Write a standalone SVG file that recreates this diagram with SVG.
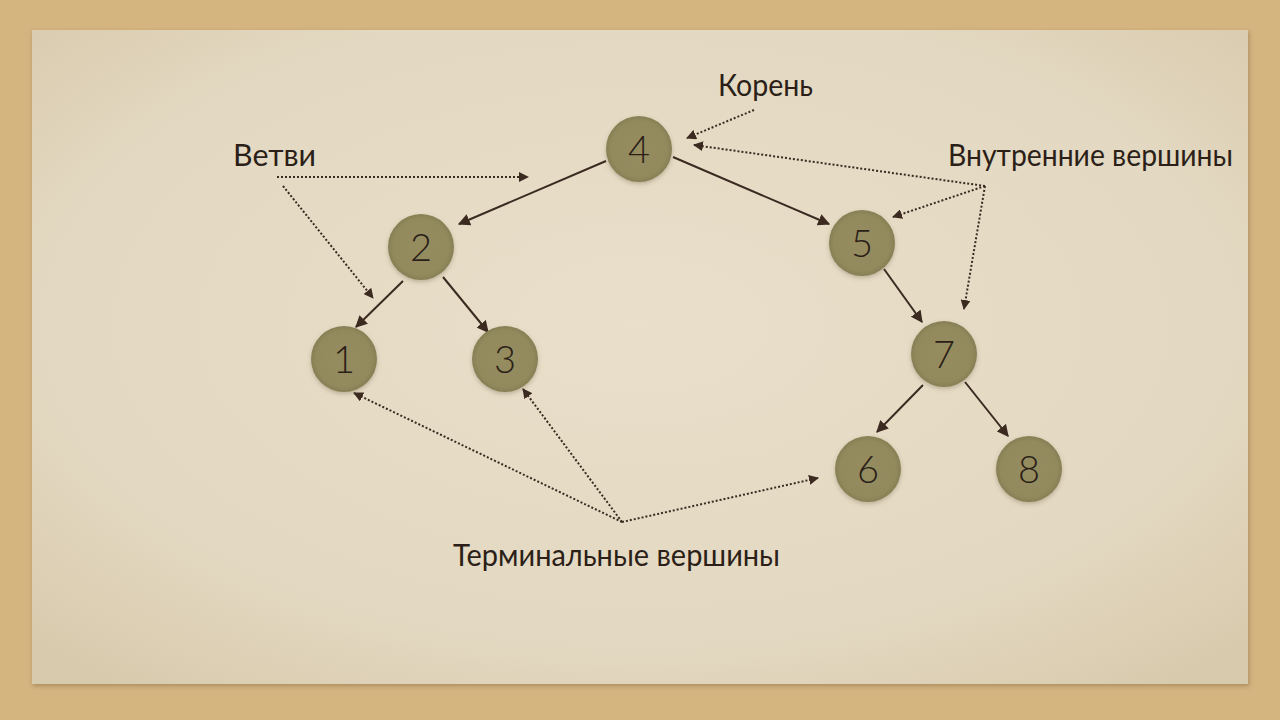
<svg xmlns="http://www.w3.org/2000/svg" width="1280" height="720" viewBox="0 0 1280 720">
<defs>
  <radialGradient id="paper" cx="50%" cy="45%" r="70%">
    <stop offset="0" stop-color="#e9dfca"/>
    <stop offset="0.7" stop-color="#e3d8c1"/>
    <stop offset="1" stop-color="#d8caad"/>
  </radialGradient>
  <radialGradient id="nodefill" cx="50%" cy="50%" r="50%">
    <stop offset="0" stop-color="#958d60"/>
    <stop offset="0.85" stop-color="#928a5d"/>
    <stop offset="1" stop-color="#867f55"/>
  </radialGradient>
  <filter id="shadow" x="-30%" y="-30%" width="160%" height="160%">
    <feDropShadow dx="0" dy="2" stdDeviation="2" flood-color="#5a4a30" flood-opacity="0.3"/>
  </filter>
  <filter id="papershadow" x="-5%" y="-5%" width="110%" height="110%">
    <feDropShadow dx="1" dy="2" stdDeviation="2" flood-color="#6a5030" flood-opacity="0.4"/>
  </filter>
  <marker id="arrow" viewBox="0 0 10 10" refX="9" refY="5" markerWidth="12" markerHeight="12" markerUnits="userSpaceOnUse" orient="auto">
    <path d="M0,0 L10,5 L0,10 z" fill="#3a2a20"/>
  </marker>
  <marker id="darrow" viewBox="0 0 10 10" refX="9" refY="5" markerWidth="10" markerHeight="10" markerUnits="userSpaceOnUse" orient="auto">
    <path d="M0,0 L10,5 L0,10 z" fill="#3a2a20"/>
  </marker>
</defs>
<style>
  .edge { stroke: #3a2a20; stroke-width: 2; fill: none; marker-end: url(#arrow); }
  .dot { stroke: #3a2a20; stroke-width: 2; stroke-dasharray: 2 2; fill: none; marker-end: url(#darrow); }
  .node circle { fill: url(#nodefill); filter: url(#shadow); }
  .node text { font-family: Lato, "Open Sans", "DejaVu Sans", sans-serif; font-weight: 300; font-size: 38px; fill: #2b1f18; text-anchor: middle; }
  .label { font-family: Lato, "Open Sans", "DejaVu Sans", sans-serif; font-weight: 400; font-size: 31px; fill: #2b1f18; }
</style>

<!-- background -->
<rect x="0" y="0" width="1280" height="720" fill="#d4b47f"/>
<rect x="32" y="30" width="1216" height="654" fill="url(#paper)" filter="url(#papershadow)"/>

<!-- connectors -->
<g id="connectors">
  <line class="edge" x1="606" y1="161" x2="459" y2="224"/>
  <line class="edge" x1="673" y1="157" x2="829" y2="224"/>
  <line class="edge" x1="403" y1="281" x2="356" y2="327"/>
  <line class="edge" x1="443" y1="277" x2="488" y2="332"/>
  <line class="edge" x1="884" y1="269" x2="922" y2="322"/>
  <line class="edge" x1="923" y1="385" x2="877" y2="432"/>
  <line class="edge" x1="965" y1="382" x2="1008" y2="436"/>

  <line class="dot" x1="754" y1="110" x2="687" y2="138"/>
  <line class="dot" x1="277" y1="177" x2="528" y2="177"/>
  <line class="dot" x1="283" y1="186" x2="373" y2="298"/>
  <line class="dot" x1="985" y1="186" x2="694" y2="145"/>
  <line class="dot" x1="985" y1="186" x2="893" y2="217"/>
  <line class="dot" x1="985" y1="186" x2="964" y2="309"/>
  <line class="dot" x1="622" y1="522" x2="354" y2="393"/>
  <line class="dot" x1="622" y1="522" x2="523" y2="389"/>
  <line class="dot" x1="622" y1="522" x2="818" y2="478"/>
</g>

<!-- nodes -->
<g id="node-4" class="node"><circle cx="639" cy="149" r="33"/><text x="639" y="163">4</text></g>
<g id="node-2" class="node"><circle cx="421" cy="247" r="33"/><text x="421" y="261">2</text></g>
<g id="node-5" class="node"><circle cx="862" cy="243" r="33"/><text x="862" y="257">5</text></g>
<g id="node-1" class="node"><circle cx="344" cy="359" r="33"/><text x="344" y="373">1</text></g>
<g id="node-3" class="node"><circle cx="505" cy="359" r="33"/><text x="505" y="373">3</text></g>
<g id="node-7" class="node"><circle cx="944" cy="354" r="33"/><text x="944" y="368">7</text></g>
<g id="node-6" class="node"><circle cx="868" cy="469" r="33"/><text x="868" y="483">6</text></g>
<g id="node-8" class="node"><circle cx="1029" cy="469" r="33"/><text x="1029" y="483">8</text></g>

<!-- labels -->
<g id="label-root"><text class="label" x="718" y="96" textLength="95" lengthAdjust="spacingAndGlyphs">Корень</text></g>
<g id="label-branches"><text class="label" x="233" y="166" textLength="83" lengthAdjust="spacingAndGlyphs">Ветви</text></g>
<g id="label-internal"><text class="label" x="948" y="166" textLength="285" lengthAdjust="spacingAndGlyphs">Внутренние вершины</text></g>
<g id="label-terminal"><text class="label" x="453" y="566" textLength="327" lengthAdjust="spacingAndGlyphs">Терминальные вершины</text></g>
</svg>
